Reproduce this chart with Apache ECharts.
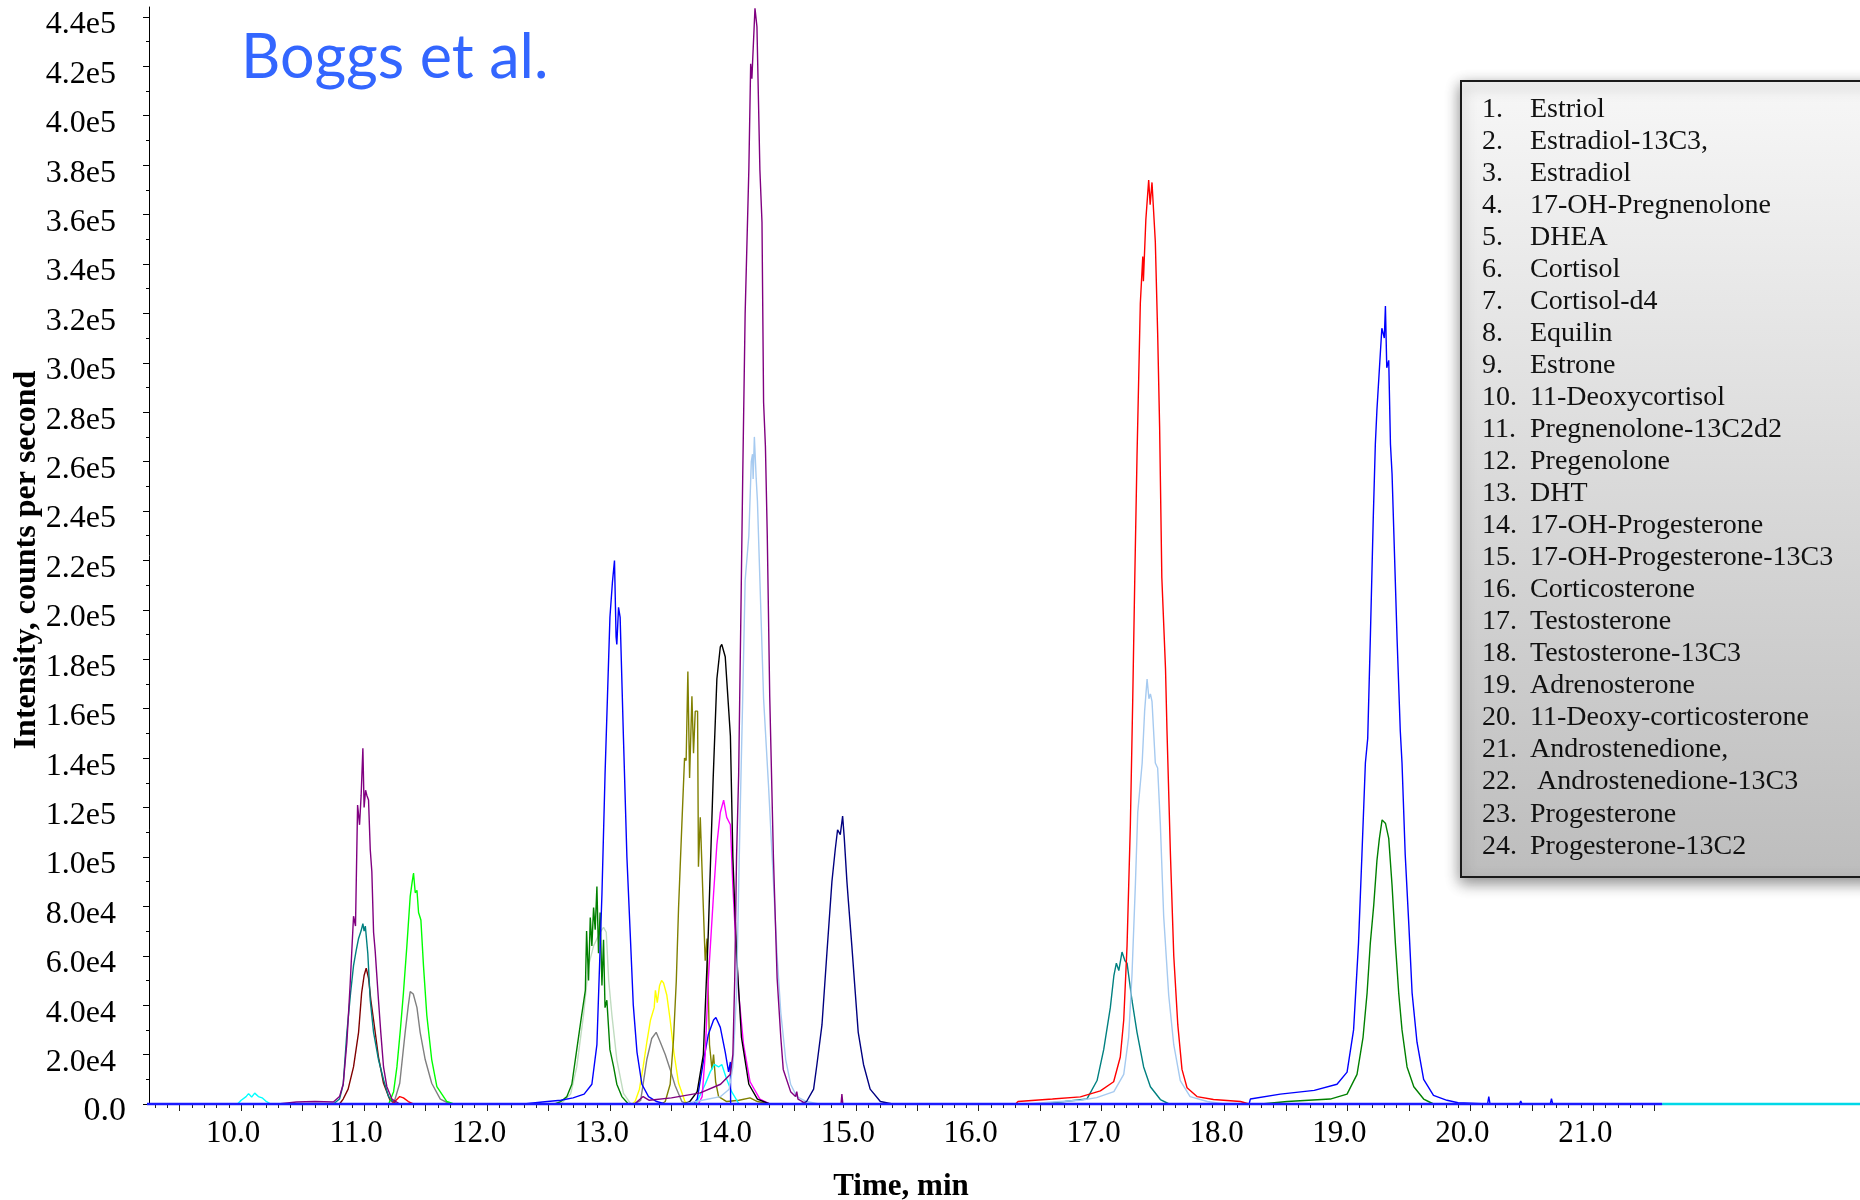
<!DOCTYPE html>
<html>
<head>
<meta charset="utf-8">
<script src="https://cdn.jsdelivr.net/npm/echarts@6/dist/echarts.min.js"></script>
<style>
  html, body { margin: 0; padding: 0; background: #fff; }
  #chart { width: 1860px; height: 1200px; }
</style>
</head>
<body>
<div id="chart"></div>
<script>
// ---- data: [time (min), intensity (cps)] ----
var purpleA = [[10.3,0],[10.45,800],[10.6,1000],[10.75,800],[10.8,3000],[10.83,8000],[10.86,25000],[10.887,49000],[10.914,76000],[10.93,72000],[10.947,121000],[10.963,113000],[10.976,125000],[10.99,144000],[11.0,120000],[11.012,127000],[11.022,125000],[11.036,123000],[11.05,103000],[11.063,94000],[11.077,69500],[11.09,62000],[11.098,56000],[11.117,42000],[11.136,28800],[11.158,15000],[11.185,7000],[11.226,2000],[11.29,0]];
var purpleB = [[13.2,0],[13.27,3000],[13.32,1500],[13.5,2500],[13.735,4500],[13.9,8000],[13.98,12000],[14.0,20000],[14.015,50000],[14.03,100000],[14.047,133000],[14.065,197000],[14.08,253000],[14.1,320000],[14.13,378000],[14.145,421000],[14.155,415000],[14.16,421000],[14.18,443500],[14.196,436000],[14.22,378000],[14.237,357000],[14.25,284000],[14.265,266000],[14.28,230000],[14.3,165000],[14.33,100000],[14.36,51000],[14.39,27000],[14.41,14000],[14.47,5000],[14.51,3000],[14.52,5000],[14.53,2000],[14.6,0],[14.88,0],[14.887,4000],[14.895,0]];
var tealA = [[10.75,0],[10.8,2000],[10.83,8000],[10.86,29000],[10.89,45000],[10.914,56000],[10.935,62000],[10.955,67000],[10.975,70000],[10.99,73000],[11.0,70000],[11.01,72000],[11.03,61000],[11.05,42000],[11.077,29000],[11.117,18000],[11.158,9800],[11.199,3000],[11.25,0]];
var tealB = [[16.5,0],[16.7,1000],[16.88,2000],[16.963,9500],[17.017,22000],[17.071,39000],[17.1,52000],[17.12,57000],[17.14,54000],[17.166,61500],[17.19,58000],[17.207,57000],[17.247,42000],[17.288,29000],[17.342,15000],[17.397,7000],[17.478,1800],[17.55,0]];
var darkRedA = [[10.8,0],[10.83,2000],[10.87,6000],[10.914,15000],[10.955,29000],[10.98,45000],[11.0,52000],[11.017,55000],[11.036,51000],[11.055,42000],[11.077,34000],[11.117,19000],[11.158,8400],[11.21,1600],[11.27,0]];
var redA = [[11.22,0],[11.26,1500],[11.29,3000],[11.32,2500],[11.36,1000],[11.4,0]];
var redB = [[16.3,0],[16.32,1000],[16.6,2000],[16.827,2900],[16.99,5300],[17.098,9000],[17.152,19000],[17.18,34000],[17.207,64000],[17.234,113000],[17.253,163000],[17.27,213000],[17.288,262000],[17.315,324000],[17.335,343000],[17.34,333000],[17.36,358000],[17.383,374000],[17.395,364000],[17.41,373000],[17.437,349000],[17.456,312000],[17.472,274000],[17.49,213000],[17.52,176000],[17.532,151000],[17.56,101000],[17.587,60000],[17.62,32000],[17.654,14000],[17.695,6600],[17.776,3000],[17.91,1800],[18.13,1000],[18.2,0]];
var limeA = [[11.2,0],[11.24,5000],[11.267,15000],[11.295,30000],[11.32,45000],[11.348,64000],[11.375,84000],[11.39,89500],[11.402,93500],[11.416,85500],[11.43,86500],[11.443,77500],[11.462,74500],[11.483,56000],[11.51,36000],[11.55,18000],[11.592,7000],[11.673,1000],[11.73,0]];
var grayA = [[11.24,0],[11.29,8400],[11.334,29000],[11.36,40000],[11.375,45500],[11.4,44500],[11.43,39000],[11.456,29000],[11.497,18000],[11.55,8400],[11.62,2000],[11.7,0]];
var grayB = [[13.2,0],[13.25,1500],[13.3,18000],[13.34,26500],[13.376,29000],[13.41,25000],[13.45,20000],[13.49,14000],[13.53,7500],[13.585,1000],[13.63,0]];
var cyanA = [[9.97,0],[10.0,1500],[10.04,3000],[10.06,4200],[10.085,2800],[10.11,4400],[10.14,3000],[10.17,2500],[10.2,1200],[10.24,0]];
var cyanB = [[13.7,0],[13.775,8000],[13.816,13000],[13.85,16000],[13.884,15000],[13.91,16000],[13.95,10000],[13.99,5000],[14.05,0]];
var greenA = [[12.55,0],[12.6,1000],[12.65,3000],[12.69,8000],[12.73,22000],[12.77,36000],[12.8,46000],[12.81,70000],[12.826,50000],[12.84,75500],[12.853,64000],[12.867,79500],[12.88,70500],[12.894,88000],[12.907,61000],[12.92,77500],[12.935,48000],[12.948,66500],[12.96,39000],[12.975,42000],[13.0,22000],[13.03,15000],[13.056,8000],[13.097,3000],[13.15,0]];
var greenB = [[18.3,0],[18.51,1000],[18.86,2000],[18.997,4000],[19.078,12000],[19.127,27000],[19.16,45000],[19.186,65000],[19.214,80500],[19.24,98500],[19.26,107500],[19.282,115000],[19.31,113500],[19.336,107500],[19.363,88500],[19.39,65000],[19.417,45000],[19.444,30000],[19.485,15000],[19.54,7000],[19.62,2000],[19.7,0]];
var paleGreenA = [[12.6,0],[12.68,4000],[12.73,15000],[12.785,36000],[12.826,56000],[12.867,64000],[12.9,67500],[12.92,69500],[12.948,71500],[12.97,69500],[12.99,50000],[13.016,36000],[13.056,18000],[13.11,4300],[13.17,0]];
var blueA = [[12.3,0],[12.45,800],[12.6,1500],[12.7,2500],[12.79,4000],[12.853,8000],[12.894,24000],[12.935,85000],[12.96,133000],[12.98,165000],[13.0,197000],[13.02,211000],[13.037,220000],[13.05,189000],[13.056,186000],[13.07,201000],[13.083,197000],[13.11,148000],[13.138,100000],[13.165,69000],[13.19,40000],[13.22,21000],[13.26,8000],[13.314,3000],[13.38,1000],[13.45,0]];
var blueB = [[13.68,0],[13.71,2000],[13.76,17000],[13.8,28000],[13.843,34000],[13.862,35000],[13.898,31000],[13.938,21000],[13.965,13000],[13.98,17000],[13.982,0]];
var blueC = [[18.2,0],[18.21,2000],[18.454,4000],[18.73,5500],[18.915,8000],[18.997,12900],[19.05,30000],[19.09,65000],[19.118,101000],[19.146,138000],[19.165,148000],[19.186,188000],[19.21,237000],[19.227,267000],[19.24,281000],[19.263,300000],[19.28,314000],[19.3,310000],[19.309,323000],[19.32,298000],[19.336,301000],[19.35,267000],[19.363,255000],[19.377,232000],[19.404,188000],[19.43,151000],[19.444,138000],[19.47,101000],[19.5,72000],[19.526,45000],[19.566,25000],[19.62,10000],[19.7,3500],[19.81,1500],[19.9,500],[20.14,0],[20.15,3000],[20.16,0],[20.4,0],[20.41,1200],[20.42,0],[20.65,0],[20.66,2200],[20.67,0]];
var yellowA = [[13.18,0],[13.205,1000],[13.24,6000],[13.27,15000],[13.3,25000],[13.33,34000],[13.36,39000],[13.37,46000],[13.385,41000],[13.404,48000],[13.42,50000],[13.436,49000],[13.463,44000],[13.49,34000],[13.52,21000],[13.558,8500],[13.61,1000],[13.65,0]];
var oliveA = [[13.42,0],[13.45,1000],[13.49,8000],[13.517,26000],[13.54,50000],[13.558,79000],[13.585,113000],[13.607,140000],[13.62,139000],[13.634,175000],[13.648,132000],[13.667,165000],[13.68,142000],[13.694,159000],[13.713,159000],[13.72,96000],[13.735,116000],[13.756,85000],[13.775,58000],[13.79,67000],[13.81,24000],[13.83,14000],[13.843,20000],[13.86,9000],[13.884,3000],[13.95,1000],[14.05,1500],[14.14,2500],[14.2,1000],[14.3,0]];
var blackA = [[13.6,0],[13.65,1000],[13.71,5000],[13.76,20000],[13.8,69000],[13.84,132000],[13.87,172000],[13.898,185000],[13.91,186000],[13.938,181000],[13.98,149000],[14.0,100000],[14.03,61000],[14.07,27000],[14.13,8000],[14.2,2000],[14.3,0]];
var magentaA = [[13.72,0],[13.75,3000],[13.775,20000],[13.8,50000],[13.843,85000],[13.87,105000],[13.898,118000],[13.925,123000],[13.95,116000],[13.98,113000],[14.0,88000],[14.02,69000],[14.047,45000],[14.087,24000],[14.14,9000],[14.22,2000],[14.3,0]];
var lightBlueA = [[13.6,0],[13.75,1500],[13.9,3000],[13.97,6000],[14.0,15000],[14.03,45000],[14.06,119000],[14.08,164000],[14.1,212000],[14.13,230000],[14.15,260000],[14.16,263000],[14.165,253000],[14.175,270000],[14.19,253000],[14.2,244000],[14.22,212000],[14.25,164000],[14.29,129000],[14.33,90000],[14.36,60000],[14.39,37000],[14.43,18000],[14.47,8000],[14.52,3000],[14.6,1000],[14.7,0]];
var lightBlueB = [[16.4,0],[16.6,800],[16.83,1500],[16.96,2600],[17.1,5000],[17.18,12000],[17.22,27000],[17.247,52000],[17.275,89000],[17.294,118000],[17.33,138000],[17.35,159000],[17.37,172000],[17.385,164000],[17.397,166000],[17.41,163000],[17.437,138000],[17.456,136000],[17.478,113000],[17.505,76000],[17.546,44000],[17.587,24000],[17.64,9500],[17.72,3000],[17.86,1000],[18.0,0]];
var navyA = [[14.55,0],[14.6,1000],[14.657,6000],[14.684,16000],[14.725,32000],[14.765,61000],[14.806,90000],[14.833,103000],[14.852,111000],[14.874,109000],[14.893,116500],[14.906,108000],[14.928,90000],[14.94,82000],[14.968,64000],[14.996,45000],[15.02,29000],[15.063,16000],[15.117,6000],[15.2,1000],[15.3,0]];
var baseBlue = [[8.0,0],[21.56,0]];
var baseCyan = [[21.56,0],[23.2,0]];

var compounds = ['Estriol','Estradiol-13C3,','Estradiol','17-OH-Pregnenolone','DHEA','Cortisol','Cortisol-d4','Equilin','Estrone','11-Deoxycortisol','Pregnenolone-13C2d2','Pregenolone','DHT','17-OH-Progesterone','17-OH-Progesterone-13C3','Corticosterone','Testosterone','Testosterone-13C3','Adrenosterone','11-Deoxy-corticosterone','Androstenedione,',' Androstenedione-13C3','Progesterone','Progesterone-13C2'];

var xLabelValues = [10,11,12,13,14,15,16,17,18,19,20,21];
var xTickLabels = ['10.0','11.0','12.0','13.0','14.0','15.0','16.0','17.0','18.0','19.0','20.0','21.0'];
var yTickValues = [0,20000,40000,60000,80000,100000,120000,140000,160000,180000,200000,220000,240000,260000,280000,300000,320000,340000,360000,380000,400000,420000,440000];
var yTickLabels = ['0.0','2.0e4','4.0e4','6.0e4','8.0e4','1.0e5','1.2e5','1.4e5','1.6e5','1.8e5','2.0e5','2.2e5','2.4e5','2.6e5','2.8e5','3.0e5','3.2e5','3.4e5','3.6e5','3.8e5','4.0e5','4.2e5','4.4e5'];

// ---- layout ----
var SERIF = "'Liberation Serif', 'Times New Roman', serif";
var X_MIN = 9.25, X_MAX = 23.17, Y_MAX = 444000;

var xMajorTicks = [], xMinorTicks = [], yMinorTicks = [];
for (var i = 19; i <= 43; i++) xMajorTicks.push(i / 2);
for (var j = 93; j <= 215; j++) { if (j % 5 !== 0) xMinorTicks.push(j / 10); }
for (var k = 1; k <= 43; k += 2) yMinorTicks.push(k * 10000);

var traces = [
  { color: '#808080', data: grayA.concat(grayB) },
  { color: '#c0dcc0', data: paleGreenA },
  { color: '#008000', data: greenA.concat(greenB) },
  { color: '#800000', data: darkRedA },
  { color: '#008080', data: tealA.concat(tealB) },
  { color: '#00ff00', data: limeA },
  { color: '#ffff00', data: yellowA },
  { color: '#808000', data: oliveA },
  { color: '#00ffff', data: cyanA.concat(cyanB) },
  { color: '#0000ff', data: blueA.concat(blueB).concat(blueC) },
  { color: '#ff00ff', data: magentaA },
  { color: '#000000', data: blackA },
  { color: '#a6caf0', data: lightBlueA.concat(lightBlueB) },
  { color: '#ff0000', data: redA.concat(redB) },
  { color: '#000080', data: navyA },
  { color: '#800080', data: purpleA.concat(purpleB) }
];

var series = traces.map(function (t) {
  return {
    type: 'line', data: t.data, symbol: 'none', silent: true,
    lineStyle: { color: t.color, width: 1.4 }, z: 3
  };
});
series.push({ type: 'line', data: baseCyan, symbol: 'none', clip: false, silent: true,
  lineStyle: { color: '#00d8e8', width: 2.5 }, z: 5 });
series.push({ type: 'line', data: baseBlue, symbol: 'none', clip: false, silent: true,
  lineStyle: { color: '#1a1aff', width: 2.5 }, z: 5 });

var graphics = [
  { type: 'text', left: 241, top: 28, z: 10,
    style: { text: 'Boggs et al.', font: "61px Lato, 'Open Sans', sans-serif", fill: '#3366ff' } },
  { type: 'text', x: 901, y: 1187, z: 10,
    style: { text: 'Time, min', font: 'bold 31px ' + SERIF, fill: '#000', align: 'center', verticalAlign: 'middle' } },
  { type: 'text', x: 27, y: 560, rotation: Math.PI / 2, z: 10,
    style: { text: 'Intensity, counts per second', font: 'bold 32px ' + SERIF, fill: '#000', align: 'center', verticalAlign: 'middle' } },
  { type: 'rect', shape: { x: 1461, y: 81, width: 440, height: 796 }, z: 20,
    style: {
      fill: new echarts.graphic.LinearGradient(0, 0, 0, 1, [
        { offset: 0, color: '#f7f7f7' }, { offset: 1, color: '#bdbdbd' }
      ]),
      stroke: '#1a1a1a', lineWidth: 2,
      shadowBlur: 14, shadowOffsetY: 5, shadowColor: 'rgba(0,0,0,0.45)'
    } }
];
compounds.forEach(function (name, idx) {
  var y = 109.5 + idx * 32.03;
  graphics.push({ type: 'text', x: 1482, y: y, z: 21,
    style: { text: (idx + 1) + '.', font: '28px ' + SERIF, fill: '#111', verticalAlign: 'middle' } });
  graphics.push({ type: 'text', x: 1530, y: y, z: 21,
    style: { text: name, font: '28px ' + SERIF, fill: '#111', verticalAlign: 'middle' } });
});

var option = {
  animation: false,
  backgroundColor: '#ffffff',
  grid: { left: 149, right: 0, top: 7, bottom: 96, containLabel: false, outerBoundsMode: 'none' },
  xAxis: [
    {
      type: 'value', min: X_MIN, max: X_MAX, position: 'bottom',
      axisLine: { show: true, lineStyle: { color: '#666', width: 1 } },
      axisTick: { show: true, customValues: xMajorTicks, length: 7, lineStyle: { color: '#222', width: 1 } },
      axisLabel: {
        show: true, customValues: xLabelValues, margin: 14, padding: [0, 16, 0, 0],
        color: '#000', fontSize: 31, fontFamily: SERIF,
        formatter: function (v) { return xTickLabels[xLabelValues.indexOf(v)]; }
      },
      splitLine: { show: false }
    },
    {
      type: 'value', min: X_MIN, max: X_MAX, position: 'bottom',
      axisLine: { show: false },
      axisTick: { show: true, customValues: xMinorTicks, length: 4, lineStyle: { color: '#222', width: 1 } },
      axisLabel: { show: false },
      splitLine: { show: false }
    }
  ],
  yAxis: [
    {
      type: 'value', min: 0, max: Y_MAX, position: 'left',
      axisLine: { show: true, lineStyle: { color: '#000', width: 1 } },
      axisTick: { show: true, customValues: yTickValues, length: 6, lineStyle: { color: '#000', width: 1 } },
      axisLabel: {
        show: true, customValues: yTickValues, margin: 23,
        formatter: function (v) {
          var s = yTickLabels[yTickValues.indexOf(v)];
          return v === 0 ? '{z|' + s + '}' : '{n|' + s + '}';
        },
        rich: {
          n: { fontSize: 32, fontFamily: SERIF, color: '#000', padding: [16, 10, 0, 0] },
          z: { fontSize: 34, fontFamily: SERIF, color: '#000', padding: [14, 0, 0, 0] }
        }
      },
      splitLine: { show: false }
    },
    {
      type: 'value', min: 0, max: Y_MAX, position: 'left',
      axisLine: { show: false },
      axisTick: { show: true, customValues: yMinorTicks, length: 3, lineStyle: { color: '#000', width: 1 } },
      axisLabel: { show: false },
      splitLine: { show: false }
    }
  ],
  series: series,
  graphic: graphics
};

var chart = echarts.init(document.getElementById('chart'), null, { renderer: 'canvas' });
chart.setOption(option);
</script>
</body>
</html>
